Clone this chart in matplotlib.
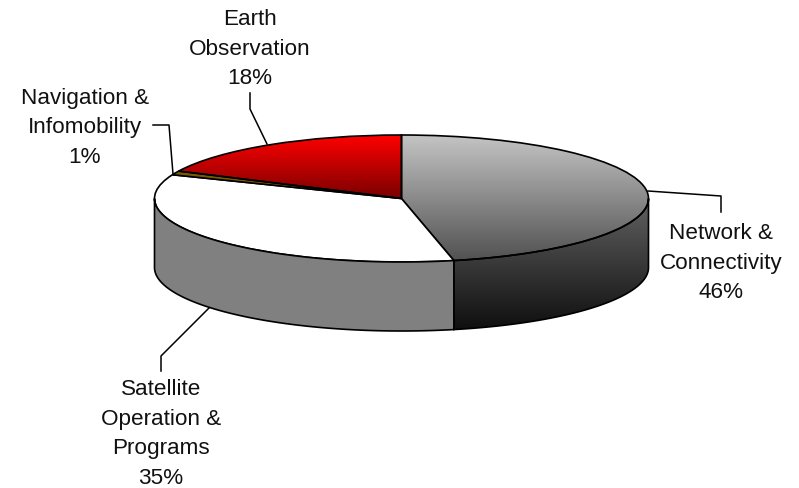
import numpy as np
import matplotlib
matplotlib.use('Agg')
import matplotlib.pyplot as plt
from matplotlib.colors import LinearSegmentedColormap
from matplotlib.patches import Polygon

plt.rcParams['font.family'] = ['Liberation Sans', 'DejaVu Sans']

#data, clockwise from 12 o'clock
names = ['Network &\nConnectivity', 'Satellite\nOperation &\nPrograms',
         'Navigation &\nInfomobility', 'Earth\nObservation']
percent_labels = ['46%', '35%', '1%', '18%']
#slice sizes as drawn, they differ a bit from the printed labels
shares = [46.6, 34.5, 1.0, 17.9]
colors = ['#808080', 'white', '#7a5a00', 'red']

W, H = 799, 489
cx, cy = 401.5, 199.5
a, b = 247, 63.5
depth = 69 / b


def to_x(px):
    return (px - cx) / a


def to_y(py):
    return (cy - py) / b


fig = plt.figure(figsize=(W / 100, H / 100), dpi=100)
ax = fig.add_axes([0, 0, 1, 1])
wedges, _ = ax.pie(shares, colors=colors, startangle=90, counterclock=False, radius=1,
                   wedgeprops=dict(edgecolor='black', linewidth=1.2))
ax.set_aspect('auto')
ax.set_xlim(to_x(0), to_x(W))
ax.set_ylim(to_y(H), to_y(0))
ax.axis('off')


def grad(patch, top, bottom, y0, y1, z):
    cmap = LinearSegmentedColormap.from_list('g', [top, bottom])
    im = ax.imshow(np.linspace(0, 1, 256).reshape(-1, 1), cmap=cmap, aspect='auto',
                   extent=(-1.05, 1.05, y1, y0), origin='upper', zorder=z)
    im.set_clip_path(patch)


ax.set_autoscale_on(False)
edges = np.cumsum([0] + shares) / 100 * 2 * np.pi


def wall(t0, t1):
    t = np.linspace(t0, t1, 120)
    x, y = np.sin(t), np.cos(t)
    pts = np.r_[np.c_[x, y], np.c_[x[::-1], y[::-1] - depth]]
    return Polygon(pts, closed=True, facecolor='none', edgecolor='black', linewidth=1.2, zorder=3)


#side of the disc, only the front half shows
dark = wall(np.pi / 2, edges[1])
ax.add_patch(dark)
grad(dark, '#6e6e6e', '#0e0e0e', 0.3, -1 - depth, 2)
side = wall(edges[1], 3 * np.pi / 2)
side.set_facecolor('#808080')
ax.add_patch(side)

#top of the disc
grad(wedges[0], '#c4c4c4', '#505050', 1, -1, 2)
grad(wedges[3], '#ff0000', '#780000', 1, 0, 2)
for w in wedges:
    w.set_zorder(3)
    if w is wedges[0] or w is wedges[3]:
        w.set_facecolor('none')

#leader lines in pixels
leaders = [([648, 721, 721], [192, 197, 213]),
           ([210, 161, 161], [308, 357, 372]),
           ([173, 169, 153], [175, 126, 126]),
           ([267, 250, 250], [145, 110, 94])]
for xs, ys in leaders:
    ax.plot(to_x(np.array(xs)), to_y(np.array(ys)), color='black', lw=1.1, zorder=1)

label_xy = [(721, 263), (161, 434), (85, 128), (250, 49)]
for name, pct, (x, y) in zip(names, percent_labels, label_xy):
    ax.text(to_x(x), to_y(y), name + '\n' + pct, ha='center', va='center',
            fontsize=16.2, linespacing=1.53, color='#111111')

fig.savefig('out.png', dpi=100)
